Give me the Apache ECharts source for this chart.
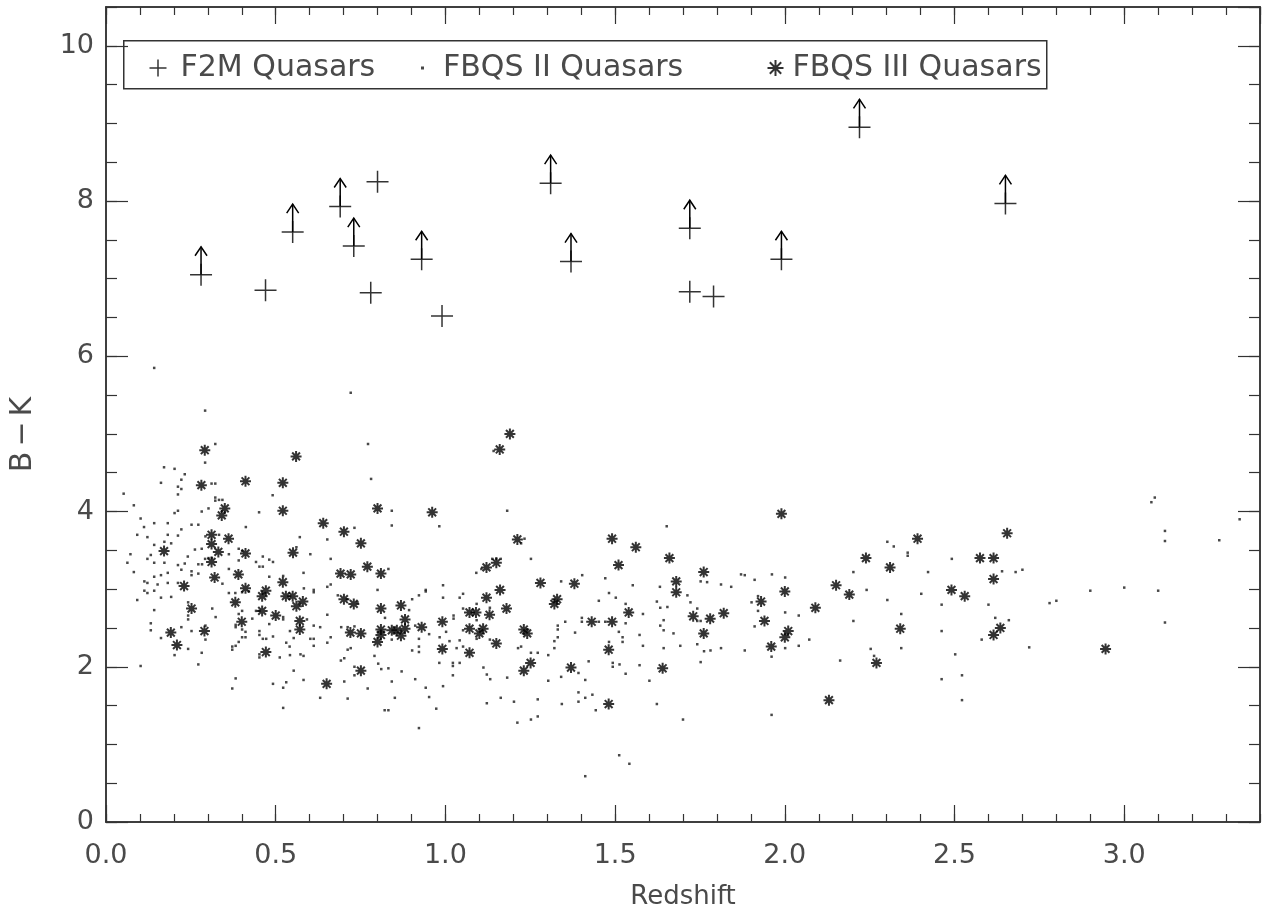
<!DOCTYPE html>
<html>
<head>
<meta charset="utf-8">
<script src="https://cdn.jsdelivr.net/npm/echarts@6/dist/echarts.min.js"></script>
<style>
  html, body { margin: 0; padding: 0; background: #fff; }
  #chart { width: 1265px; height: 915px; }
</style>
</head>
<body>
<div id="chart"></div>
<script>
// ---- data -------------------------------------------------------------
// F2M quasars: redshift, B-K, and whether B-K is a lower limit (1 = arrow)
const f2mZ     = [0.28, 0.47, 0.55, 0.69, 0.73, 0.78, 0.80, 0.93, 0.99, 1.31, 1.37, 1.72, 1.72, 1.79, 1.99, 2.22, 2.65];
const f2mBK    = [7.05, 6.85, 7.60, 7.93, 7.42, 6.82, 8.25, 7.25, 6.52, 8.23, 7.22, 7.65, 6.83, 6.77, 7.25, 8.95, 7.97];
const f2mLimit = [1,    0,    1,    1,    1,    0,    0,    1,    0,    1,    1,    1,    0,    0,    1,    1,    1];

// FBQS II quasars [redshift, B-K]
const fbqs2Points = [
  [0.142,5.85],[0.721,5.53],[0.292,5.30],[0.322,4.87],[0.292,4.63],[0.772,4.87],[0.171,4.57],[0.202,4.55],[0.232,4.48],
  [0.162,4.37],[0.222,4.41],[0.212,4.32],[0.222,4.29],[0.212,4.22],[0.311,4.36],[0.322,4.36],[0.781,4.42],[0.491,4.21],
  [0.052,4.23],[0.322,4.18],[0.322,4.14],[0.333,4.15],[0.343,4.15],[0.082,4.08],[0.212,4.01],[0.202,3.98],[0.282,4.00],
  [0.302,4.04],[0.451,3.99],[0.842,4.01],[0.842,3.82],[0.102,3.91],[0.142,3.85],[0.182,3.85],[0.112,3.80],[0.252,3.83],
  [0.272,3.83],[0.222,3.77],[0.412,3.80],[0.732,3.79],[0.092,3.70],[0.122,3.67],[0.182,3.70],[0.212,3.69],[0.293,3.68],
  [0.333,3.70],[0.571,3.67],[0.652,3.64],[0.142,3.57],[0.172,3.61],[0.192,3.59],[0.262,3.51],[0.282,3.52],[0.561,3.54],
  [0.072,3.45],[0.132,3.44],[0.122,3.39],[0.241,3.42],[0.362,3.45],[0.391,3.52],[0.401,3.49],[0.462,3.42],[0.602,3.45],
  [0.662,3.39],[0.302,3.40],[0.312,3.40],[0.292,3.39],
  [1.142,4.78],[1.182,4.01],[0.982,3.81],[1.652,3.81],[1.233,3.65],[1.223,3.59],[1.138,3.39],[1.150,3.39],[1.163,3.39],[1.252,3.39],
  [2.302,3.61],[2.321,3.55],[2.362,3.47],[2.362,3.43],[2.492,3.39],
  [0.063,3.34],[0.082,3.22],[0.142,3.34],[0.172,3.34],[0.212,3.31],[0.232,3.33],[0.272,3.32],[0.283,3.32],[0.391,3.37],
  [0.442,3.35],[0.452,3.29],[0.462,3.29],[0.481,3.38],[0.492,3.35],[0.113,3.10],[0.122,3.08],[0.142,3.16],[0.162,3.18],
  [0.182,3.21],[0.152,3.06],[0.182,3.08],[0.212,3.08],[0.222,3.25],[0.252,3.23],[0.252,3.18],[0.272,3.20],[0.113,2.98],
  [0.122,2.95],[0.142,2.98],[0.162,2.89],[0.192,2.90],[0.092,2.86],[0.362,3.26],[0.343,3.07],[0.481,3.16],[0.522,3.17],
  [0.582,3.21],[0.583,3.01],[0.612,2.99],[0.612,2.96],[0.652,3.03],[0.662,3.06],[0.362,2.95],[0.381,2.95],[0.401,2.96],
  [0.421,2.97],[0.442,2.72],[0.452,2.72],[0.431,2.62],[0.401,2.72],[0.391,2.68],[0.313,2.75],[0.323,2.64],[0.242,2.83],
  [0.242,2.66],[0.242,2.61],[0.142,2.73],[0.132,2.56],[0.132,2.47],[0.162,2.37],[0.222,2.51],[0.252,2.46],[0.293,2.53],
  [0.293,2.35],[0.242,2.23],[0.202,2.15],[0.282,2.18],[0.272,2.03],[0.102,2.01],[0.382,2.54],[0.382,2.51],[0.401,2.48],
  [0.411,2.45],[0.401,2.38],[0.411,2.38],[0.391,2.32],[0.382,2.27],[0.372,2.26],[0.372,2.22],[0.452,2.46],[0.452,2.41],
  [0.462,2.36],[0.472,2.36],[0.452,2.16],[0.452,2.12],[0.481,2.55],[0.492,2.39],[0.512,2.12],[0.522,2.64],[0.522,2.61],
  [0.531,2.31],[0.541,2.26],[0.542,2.46],[0.553,2.37],[0.542,2.15],[0.573,2.16],[0.582,2.14],[0.553,1.95],[0.582,1.83],
  [0.592,2.61],[0.612,2.53],[0.612,2.36],[0.612,2.27],[0.602,2.36],[0.631,2.51],[0.652,2.67],[0.652,2.31],[0.662,2.38],
  [0.382,1.85],[0.372,1.72],[0.492,1.78],[0.522,1.73],[0.531,1.80],[0.522,1.47],[0.631,1.60],[0.702,1.81],[0.712,1.59],
  [0.692,2.08],[0.702,2.11],[0.712,2.22],[0.721,2.24],[0.732,1.89],[0.732,2.00],[0.771,1.72],[0.791,2.14],[0.802,2.04],
  [0.811,1.97],[0.832,1.98],[0.821,1.44],[0.832,1.44],[0.842,1.81],[0.842,2.35],[0.800,2.99],[0.832,3.26],[0.822,2.63],
  [0.693,2.51],[0.712,2.51],[0.732,2.52],[0.683,2.92],[0.710,2.87],[0.741,2.83],[0.851,1.60],
  [1.091,3.21],[1.106,3.26],[1.403,3.18],[1.471,3.14],[1.552,3.05],[1.341,3.10],[0.993,3.05],[0.942,2.99],[0.942,2.97],
  [0.922,2.92],[0.902,2.87],[0.993,2.89],[1.052,2.94],[1.042,2.89],[0.893,2.73],[0.952,2.42],[0.911,2.53],[0.922,2.36],
  [0.922,2.26],[0.922,2.19],[0.902,2.21],[0.983,2.38],[1.002,2.45],[1.012,2.33],[1.024,2.66],[1.024,2.62],[1.033,2.24],
  [1.042,2.34],[1.052,2.75],[1.052,2.47],[1.052,2.26],[1.092,2.81],[1.092,2.60],[1.092,2.36],[1.131,2.76],[1.131,2.35],
  [0.982,2.05],[1.022,2.05],[1.022,2.01],[1.042,2.05],[1.022,1.89],[0.993,1.75],[0.942,1.73],[0.952,1.61],[0.973,1.46],
  [0.911,1.84],[0.871,1.94],[0.922,1.21],[1.112,1.99],[1.122,1.90],[1.132,1.84],[1.122,1.53],[1.163,1.60],[1.182,1.86],
  [1.202,1.55],[1.214,2.24],[1.223,2.26],[1.252,2.18],[1.272,2.18],[1.212,1.28],[1.252,1.32],[1.272,1.36],[1.272,1.58],
  [1.303,2.15],[1.303,1.82],[1.321,2.33],[1.321,2.24],[1.331,2.38],[1.331,2.53],[1.331,2.48],[1.341,1.87],[1.343,1.52],
  [1.353,2.58],[1.382,2.44],[1.392,1.92],[1.392,1.67],[1.392,1.55],[1.412,1.83],[1.412,1.60],[1.433,1.64],[1.422,2.07],
  [1.443,1.44],[1.402,2.63],[1.402,2.58],[1.452,2.85],[1.452,2.58],[1.471,2.58],[1.482,2.95],[1.482,2.32],[1.493,2.05],
  [1.493,2.00],[1.502,2.89],[1.511,2.45],[1.522,2.38],[1.522,2.32],[1.513,2.03],[1.531,2.81],[1.531,2.56],[1.531,1.91],
  [1.512,0.86],[1.542,0.75],[1.412,0.59],[1.572,2.41],[1.582,2.68],[1.582,2.27],[1.572,2.02],[1.601,1.82],[1.623,1.52],
  [1.623,2.84],[1.633,2.76],[1.633,2.53],[1.643,2.60],[1.643,2.47],[1.643,2.24],[1.632,3.03],[1.654,2.77],[1.672,2.43],
  [1.692,2.27],[1.700,1.32],
  [1.752,3.10],[1.771,3.09],[1.812,3.06],[1.842,3.03],[1.871,3.19],[1.882,3.18],[1.911,3.12],[1.962,3.19],[2.001,3.15],
  [1.713,2.92],[1.722,2.83],[1.742,2.75],[1.742,2.59],[1.752,2.59],[1.902,2.83],[1.921,2.91],[1.921,2.72],[1.911,2.52],
  [2.001,2.70],[2.041,2.66],[2.072,2.35],[2.041,2.27],[2.001,2.24],[1.961,2.13],[1.742,2.29],[1.762,2.20],[1.781,2.21],
  [1.812,2.24],[1.882,2.21],[1.752,2.06],[1.961,1.38],[2.202,3.22],[2.241,2.99],[2.202,2.59],[2.163,2.08],[2.253,2.23],
  [2.263,2.14],[2.302,2.86],[2.343,2.68],[2.343,2.24],[2.402,2.94],[2.422,3.22],[2.462,2.80],[2.462,2.46],[2.462,1.84],
  [2.502,2.16],[2.522,1.89],[2.522,1.57],
  [2.58,2.35],[2.60,2.80],[2.62,2.63],[2.64,3.23],[2.66,2.60],[2.68,3.22],[2.70,3.25],[2.72,2.25],[2.78,2.82],[2.80,2.85],
  [2.90,2.98],[3.00,3.02],[3.08,4.12],[3.09,4.18],[3.10,2.98],[3.12,3.75],[3.12,3.62],[3.12,2.57],[3.28,3.63],[3.34,3.90]
];

// FBQS III quasars [redshift, B-K]
const fbqs3Points = [
  [0.291,4.79],[0.281,4.34],[0.411,4.39],[0.521,4.37],[0.560,4.71],[0.521,4.01],[0.800,4.04],[0.350,4.04],[0.341,3.95],
  [0.640,3.85],[0.701,3.74],[0.751,3.59],[0.311,3.70],[0.311,3.58],[0.361,3.65],[0.171,3.49],[0.331,3.48],[0.411,3.46],
  [0.551,3.47],
  [1.190,5.00],[1.160,4.80],[0.961,3.99],[1.212,3.64],[1.491,3.65],[1.561,3.54],[1.660,3.40],
  [1.990,3.97],[2.391,3.65],[2.239,3.40],
  [0.311,3.35],[0.320,3.15],[0.230,3.04],[0.390,3.19],[0.411,3.01],[0.471,2.98],[0.460,2.91],[0.521,3.09],[0.530,2.91],
  [0.550,2.91],[0.561,2.78],[0.580,2.84],[0.691,3.20],[0.721,3.19],[0.770,3.29],[0.810,3.20],[0.381,2.83],[0.460,2.72],
  [0.500,2.66],[0.400,2.58],[0.252,2.75],[0.571,2.59],[0.571,2.48],[0.701,2.87],[0.730,2.81],[0.810,2.75],[0.191,2.44],
  [0.290,2.46],[0.209,2.28],[0.471,2.19],[0.720,2.44],[0.751,2.43],[0.810,2.48],[0.810,2.41],[0.800,2.32],[0.842,2.47],
  [0.751,1.95],[0.650,1.78],
  [1.121,3.28],[1.150,3.34],[1.510,3.31],[0.869,2.79],[0.881,2.61],[0.881,2.49],[0.857,2.47],[0.869,2.40],[0.930,2.51],
  [0.991,2.58],[0.991,2.23],[1.071,2.70],[1.090,2.70],[1.121,2.89],[1.161,2.99],[1.130,2.67],[1.180,2.75],[1.071,2.49],
  [1.111,2.49],[1.100,2.43],[1.071,2.18],[1.150,2.30],[1.280,3.08],[1.380,3.07],[1.329,2.87],[1.321,2.81],[1.231,2.48],
  [1.241,2.43],[1.251,2.05],[1.231,1.95],[1.370,1.99],[1.431,2.58],[1.491,2.58],[1.481,2.22],[1.481,1.52],[1.540,2.70],
  [1.680,3.10],[1.680,2.96],[1.640,1.98],
  [1.761,3.22],[1.730,2.65],[1.780,2.62],[1.820,2.69],[1.761,2.43],[1.930,2.84],[1.940,2.59],[2.000,2.97],[2.010,2.46],
  [2.000,2.38],[1.960,2.26],[2.090,2.76],[2.151,3.05],[2.190,2.93],[2.310,3.28],[2.340,2.49],[2.270,2.05],[2.130,1.57],
  [2.491,2.99],[2.530,2.91],
  [2.575,3.40],[2.615,3.40],[2.615,3.13],[2.615,2.41],[2.635,2.50],[2.655,3.72],[2.945,2.23]
];

// axis ranges and tick spacing
const xRange = [0, 3.4];
const yRange = [0, 10.5];
const xMajor = 0.5, xMinor = 0.1;
const yMajor = 2,   yMinor = 0.5;
const seriesNames = ['F2M Quasars', 'FBQS II Quasars', 'FBQS III Quasars'];
const axisNames = { x: 'Redshift', y: ['B', '\u2212', 'K'] };

// ---- styling ----------------------------------------------------------
const INK = '#000';
const AXIS = '#333';
const TEXT = '#4a4a4a';
const FONT = 'DejaVu Sans';

const plusPath = 'path://M0 10L20 10M10 0L10 20';
const starPath = 'path://M10 0L10 20M0 10L20 10M2.9 2.9L17.1 17.1M17.1 2.9L2.9 17.1';

function xAxisDef(pos, interval, tickLen, labels) {
  return {
    type: 'value', position: pos, min: xRange[0], max: xRange[1], interval: interval,
    axisLine: { show: true, onZero: false, lineStyle: { color: AXIS, width: 1.5 } },
    axisTick: { show: true, inside: true, length: tickLen, lineStyle: { color: AXIS, width: 1.2 } },
    splitLine: { show: false },
    axisLabel: labels ? {
      show: true, margin: 20, fontSize: 27, color: TEXT, fontFamily: FONT,
      showMaxLabel: false, formatter: v => v.toFixed(1)
    } : { show: false },
    name: labels ? axisNames.x : '', nameLocation: 'middle', nameGap: 62,
    nameTextStyle: { fontSize: 26, color: TEXT, fontFamily: FONT }
  };
}
function yAxisDef(pos, interval, tickLen, labels) {
  // the y title is spaced out letter by letter through rich-text fragments
  const spaced = { fontSize: 30, color: TEXT, fontFamily: FONT, padding: [0, 2.5] };
  return {
    type: 'value', position: pos, min: yRange[0], max: yRange[1], interval: interval,
    axisLine: { show: true, onZero: false, lineStyle: { color: AXIS, width: 1.5 } },
    axisTick: { show: true, inside: true, length: tickLen, lineStyle: { color: AXIS, width: 1.2 } },
    splitLine: { show: false },
    axisLabel: labels ? {
      show: true, margin: 12, fontSize: 27, color: TEXT, fontFamily: FONT,
      showMaxLabel: false, formatter: v => String(v)
    } : { show: false },
    name: labels ? axisNames.y.map(c => '{c|' + c + '}').join('') : '',
    nameLocation: 'middle', nameGap: 68, nameRotate: 90,
    // extra space after the text pulls the rotated title a little below the axis centre
    nameTextStyle: { fontSize: 30, color: TEXT, fontFamily: FONT, padding: [0, 40, 0, 0], rich: { c: spaced } }
  };
}

const chart = echarts.init(document.getElementById('chart'), null, { renderer: 'canvas' });

const f2mData = f2mZ.map((z, i) => [z, f2mBK[i]]);
const f2mLimitData = f2mData.filter((d, i) => f2mLimit[i] === 1);

const legendText = { fontSize: 30, color: TEXT, fontFamily: FONT };

chart.setOption({
  animation: false,
  backgroundColor: '#fff',
  grid: { left: 102, right: 5, top: 7, bottom: 85, containLabel: false },
  xAxis: [
    xAxisDef('bottom', xMajor, 17, true),
    xAxisDef('bottom', xMinor, 8, false),
    xAxisDef('top', xMajor, 17, false),
    xAxisDef('top', xMinor, 8, false)
  ],
  yAxis: [
    yAxisDef('left', yMajor, 22, true),
    yAxisDef('left', yMinor, 11, false),
    yAxisDef('right', yMajor, 22, false),
    yAxisDef('right', yMinor, 11, false)
  ],
  legend: [
    {
      data: [{ name: seriesNames[0], icon: plusPath }],
      left: 142, top: 48, itemWidth: 17, itemHeight: 17,
      textStyle: Object.assign({ padding: [0, 0, 0, 9] }, legendText),
      itemStyle: { borderColor: INK, borderWidth: 1.5, color: 'none' }
    },
    {
      data: [{ name: seriesNames[1], icon: 'rect' }],
      left: 416, top: 48, itemWidth: 3, itemHeight: 3,
      textStyle: Object.assign({ padding: [0, 0, 0, 14] }, legendText)
    },
    {
      data: [{ name: seriesNames[2], icon: starPath }],
      left: 760, top: 48, itemWidth: 16, itemHeight: 16,
      textStyle: Object.assign({ padding: [0, 0, 0, 4] }, legendText),
      itemStyle: { borderColor: INK, borderWidth: 2, color: 'none' }
    }
  ],
  graphic: [{
    type: 'rect', left: 123, top: 40, z: 0,
    shape: { width: 923, height: 48 },
    style: { fill: '#fff', stroke: AXIS, lineWidth: 1.5 }
  }],
  series: [
    {
      name: seriesNames[0], type: 'scatter', xAxisIndex: 0, yAxisIndex: 0,
      data: f2mData, symbol: plusPath, symbolSize: 22, z: 5,
      itemStyle: { color: 'none', borderColor: INK, borderWidth: 1.5 },
      emphasis: { disabled: true }, silent: true
    },
    {
      name: 'lower limits', type: 'custom', xAxisIndex: 0, yAxisIndex: 0,
      data: f2mLimitData, z: 5, silent: true,
      renderItem: function (params, api) {
        const p = api.coord([api.value(0), api.value(1)]);
        const len = 28, hw = 6, hh = 9;
        const st = { stroke: INK, lineWidth: 1.5, fill: null };
        return {
          type: 'group',
          children: [
            { type: 'line', shape: { x1: p[0], y1: p[1], x2: p[0], y2: p[1] - len }, style: st },
            { type: 'polyline', shape: { points: [[p[0] - hw, p[1] - len + hh], [p[0], p[1] - len], [p[0] + hw, p[1] - len + hh]] }, style: st }
          ]
        };
      }
    },
    {
      name: seriesNames[1], type: 'scatter', xAxisIndex: 0, yAxisIndex: 0,
      data: fbqs2Points, symbol: 'rect', symbolSize: 2.5, z: 3,
      itemStyle: { color: '#1a1a1a' }, emphasis: { disabled: true }, silent: true
    },
    {
      name: seriesNames[2], type: 'scatter', xAxisIndex: 0, yAxisIndex: 0,
      data: fbqs3Points, symbol: starPath, symbolSize: 11, z: 4,
      itemStyle: { color: 'none', borderColor: INK, borderWidth: 2 },
      emphasis: { disabled: true }, silent: true
    }
  ]
});
</script>
</body>
</html>
